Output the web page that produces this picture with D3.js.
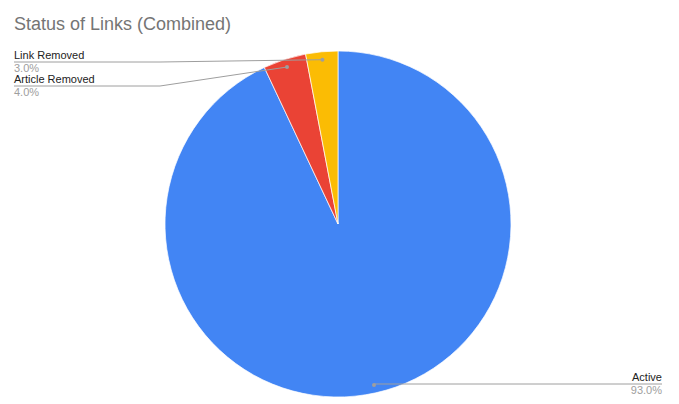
<!DOCTYPE html>
<html>
<head>
<meta charset="utf-8">
<script src="https://cdn.jsdelivr.net/npm/d3@7"></script>
<style>
  body { margin: 0; background: #fff; }
  svg { display: block; font-family: "Liberation Sans", Arial, sans-serif; }
</style>
</head>
<body>
<svg id="chart" width="679" height="404"></svg>
<script>
// chart data
var categories = ["Active", "Article Removed", "Link Removed"];
var values = [93.0, 4.0, 3.0];
var colors = ["#4285f4", "#ea4335", "#fbbc04"];

var svg = d3.select("#chart");
var width = 679, height = 404;

var cx = 338, cy = 224, radius = 173;

svg.append("text")
  .attr("x", 14)
  .attr("y", 30)
  .style("font-size", "18px")
  .style("fill", "#757575")
  .text("Status of Links (Combined)");

var pie = d3.pie().sort(null).value(function(d){ return d; });
var arcs = pie(values);

var arc = d3.arc().innerRadius(0).outerRadius(radius);
var dotArc = d3.arc().innerRadius(radius * 0.954).outerRadius(radius * 0.954);

var plot = svg.append("g").attr("transform", "translate(" + cx + "," + cy + ")");

plot.selectAll("path.slice")
  .data(arcs)
  .enter().append("path")
  .attr("class", "slice")
  .attr("d", arc)
  .attr("fill", function(d, i){ return colors[i]; })
  .attr("stroke", "#fff")
  .attr("stroke-width", 0.7);

// label layout: left side labels stacked, right side label at the bottom
var labelLineY = [384, 86, 62]; // absolute y of the leader line for each category
var leftX = 14, bendX = 160, rightX = 662;

var labels = svg.append("g");
arcs.forEach(function(d, i){
  var c = dotArc.centroid(d);
  var px = cx + c[0], py = cy + c[1];
  var ly = labelLineY[i];
  var mid = (d.startAngle + d.endAngle) / 2;
  var onRight = mid < Math.PI;
  var pts;
  if (onRight) {
    pts = [[px, py], [rightX, ly]];
    if (Math.abs(py - ly) > 0.5) pts = [[px, py], [px, ly], [rightX, ly]];
  } else {
    pts = [[px, py], [bendX, ly], [leftX, ly]];
  }
  labels.append("path")
    .attr("d", d3.line()(pts))
    .attr("fill", "none")
    .attr("stroke", "#9e9e9e")
    .attr("stroke-width", 1);
  labels.append("circle")
    .attr("cx", px).attr("cy", py).attr("r", 2)
    .attr("fill", "#9e9e9e");

  var tx = onRight ? rightX : leftX;
  var anchor = onRight ? "end" : "start";
  labels.append("text")
    .attr("x", tx).attr("y", ly - 3)
    .attr("text-anchor", anchor)
    .style("font-size", "11px")
    .style("fill", "#222")
    .text(categories[i]);
  labels.append("text")
    .attr("x", tx).attr("y", ly + 10)
    .attr("text-anchor", anchor)
    .style("font-size", "11px")
    .style("fill", "#9e9e9e")
    .text(values[i].toFixed(1) + "%");
});
</script>
</body>
</html>
